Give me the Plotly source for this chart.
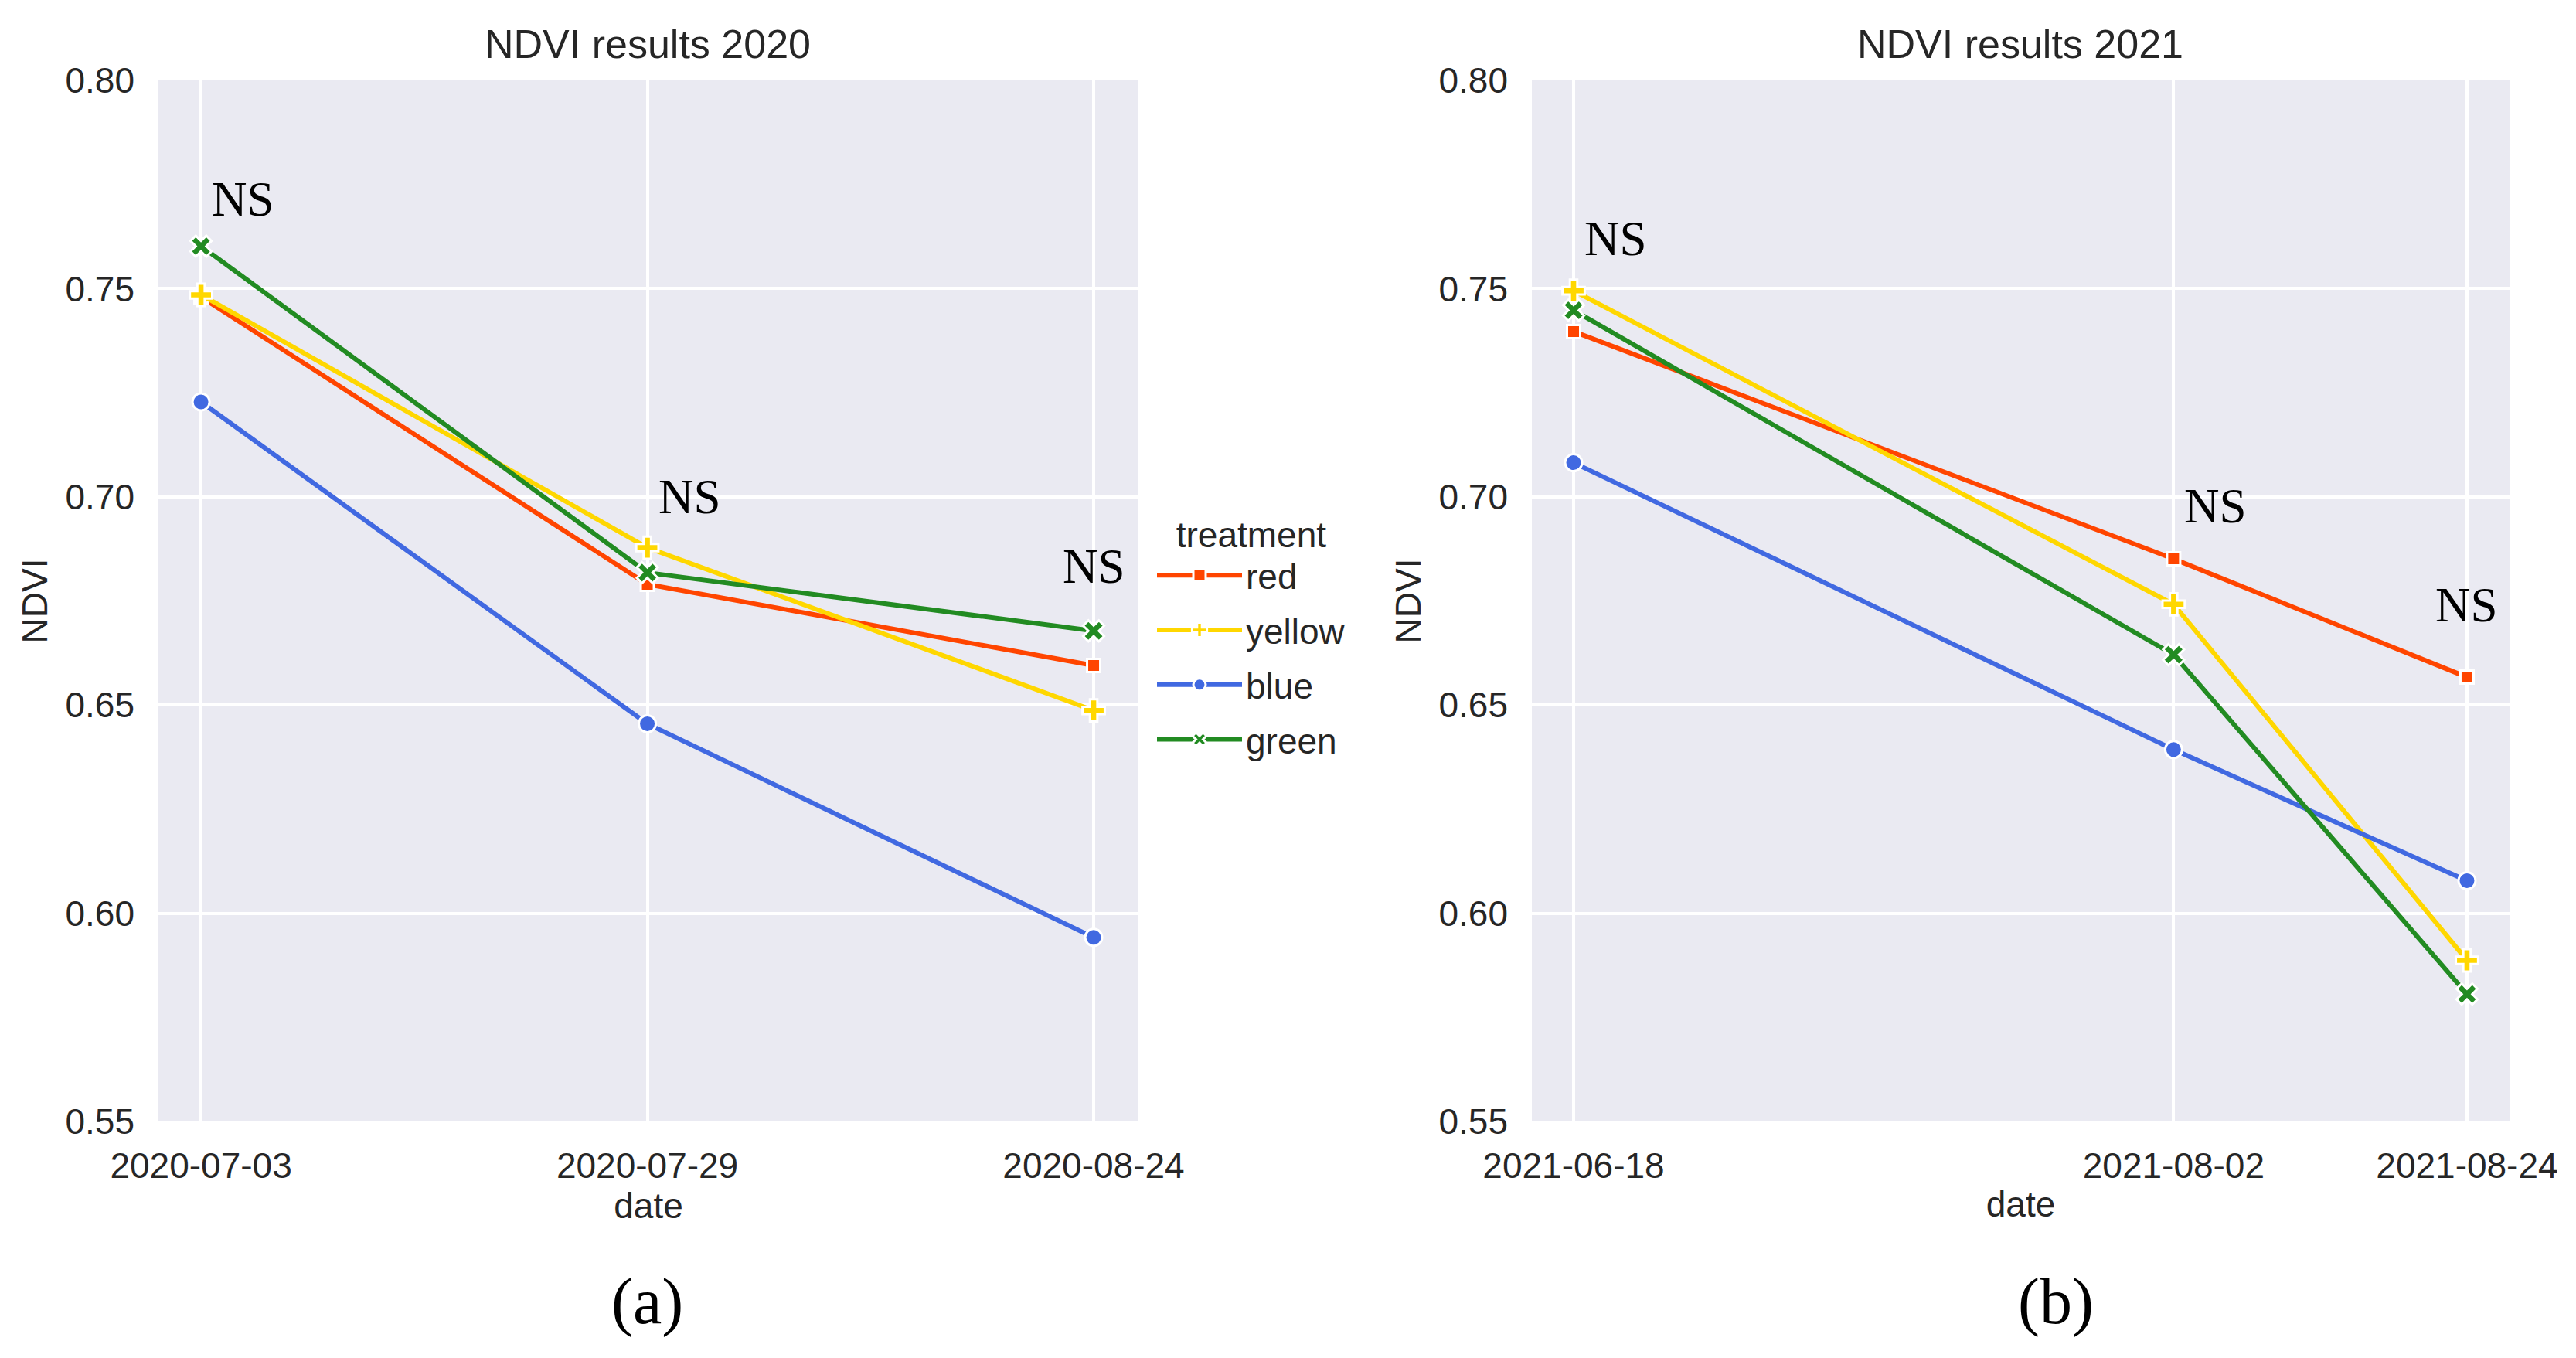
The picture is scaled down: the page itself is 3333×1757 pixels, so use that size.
import pandas as pd
import plotly.graph_objects as go

# data
treatments = ["red", "yellow", "blue", "green"]
colors = ["#FF4500", "#FFD700", "#4169E1", "#228B22"]
symbols = ["square", "cross", "circle", "x"]
marker_sizes = [17, 24, 22, 24]

dates_2020 = ["2020-07-03", "2020-07-29", "2020-08-24"]
ndvi_2020 = {
    "red": [0.748, 0.679, 0.6595],
    "yellow": [0.7485, 0.6878, 0.6487],
    "blue": [0.7228, 0.6455, 0.5942],
    "green": [0.7602, 0.6818, 0.6678],
}

dates_2021 = ["2021-06-18", "2021-08-02", "2021-08-24"]
ndvi_2021 = {
    "red": [0.7397, 0.6851, 0.6567],
    "yellow": [0.7495, 0.6742, 0.5887],
    "blue": [0.7082, 0.6393, 0.6078],
    "green": [0.7448, 0.6621, 0.5806],
}

ns_labels = ["NS", "NS", "NS"]
ns_y_2020 = [0.7715, 0.7000, 0.6832]
ns_y_2021 = [0.7619, 0.6978, 0.6740]

titles = ["NDVI results 2020", "NDVI results 2021"]
captions = ["(a)", "(b)"]
y_ticks = [0.55, 0.60, 0.65, 0.70, 0.75, 0.80]

# page body has an 8px margin, so the figure is drawn 8px in from the corner
OFF = 8
W, H = 3333 - OFF, 1757 - OFF
TEXT = "#262626"
SANS = "Liberation Sans, Arial, sans-serif"
SERIF = "Liberation Serif, Times New Roman, serif"


def px_x(v):
    return (v - OFF) / W


def px_y(v):
    return 1 - (v - OFF) / H


fig = go.Figure()

for i, t in enumerate(treatments):
    for k, (dates, vals) in enumerate([(dates_2020, ndvi_2020), (dates_2021, ndvi_2021)]):
        fig.add_trace(go.Scatter(
            x=dates, y=vals[t], name=t, mode="lines+markers",
            xaxis="x" if k == 0 else "x2", yaxis="y" if k == 0 else "y2",
            line=dict(color=colors[i], width=6),
            marker=dict(symbol=symbols[i], size=marker_sizes[i], color=colors[i],
                        line=dict(color="white", width=3)),
            legendgroup=t, showlegend=(k == 0),
        ))

axis_common = dict(
    showgrid=True, gridcolor="white", gridwidth=3.5, zeroline=False, automargin=False,
    showline=False, ticks="", tickfont=dict(family=SANS, size=46, color=TEXT),
)

pad_2020 = (pd.Timedelta(days=2.48), pd.Timedelta(days=2.61))
pad_2021 = (pd.Timedelta(days=3.13), pd.Timedelta(days=3.19))

fig.update_layout(
    width=W, height=H, margin=dict(l=0, r=0, t=0, b=0, autoexpand=False),
    paper_bgcolor="white", plot_bgcolor="#EAEAF2",
    xaxis=dict(axis_common, domain=[px_x(205), px_x(1473)], type="date",
               range=[pd.Timestamp(dates_2020[0]) - pad_2020[0], pd.Timestamp(dates_2020[-1]) + pad_2020[1]],
               tickvals=dates_2020, ticktext=dates_2020, ticklabelstandoff=26,
               title=dict(text="date", font=dict(family=SANS, size=46, color=TEXT), standoff=8),
               anchor="y"),
    yaxis=dict(axis_common, domain=[px_y(1451), px_y(104)], range=[0.55, 0.80],
               tickvals=y_ticks, tickformat=".2f", ticklabelstandoff=30,
               title=dict(text="NDVI", font=dict(family=SANS, size=46, color=TEXT), standoff=8),
               anchor="x"),
    xaxis2=dict(axis_common, domain=[px_x(1982), px_x(3247)], type="date",
                range=[pd.Timestamp(dates_2021[0]) - pad_2021[0], pd.Timestamp(dates_2021[-1]) + pad_2021[1]],
                tickvals=dates_2021, ticktext=dates_2021, ticklabelstandoff=26,
                title=dict(text="date", font=dict(family=SANS, size=46, color=TEXT), standoff=8),
                anchor="y2"),
    yaxis2=dict(axis_common, domain=[px_y(1451), px_y(104)], range=[0.55, 0.80],
                tickvals=y_ticks, tickformat=".2f", ticklabelstandoff=30,
                title=dict(text="NDVI", font=dict(family=SANS, size=46, color=TEXT), standoff=8),
                anchor="x2"),
    legend=dict(
        x=px_x(1492), y=px_y(648), xanchor="left", yanchor="top",
        bgcolor="white", borderwidth=0, tracegroupgap=8, itemwidth=110,
        font=dict(family=SANS, size=46, color=TEXT),
        title=dict(text="treatment", side="top center", font=dict(family=SANS, size=46, color=TEXT)),
    ),
)

# subplot titles and captions
for k, cx in enumerate([838, 2614]):
    fig.add_annotation(text=titles[k], xref="paper", yref="paper", x=px_x(cx), y=px_y(57),
                       showarrow=False, xanchor="center", yanchor="middle",
                       font=dict(family=SANS, size=52, color=TEXT))
for k, cx in enumerate([837, 2660]):
    fig.add_annotation(text=captions[k], xref="paper", yref="paper", x=px_x(cx), y=px_y(1684),
                       showarrow=False, xanchor="center", yanchor="middle",
                       font=dict(family=SERIF, size=84, color="black"))

# significance labels
for k, (dates, ys) in enumerate([(dates_2020, ns_y_2020), (dates_2021, ns_y_2021)]):
    for j, (d, yv) in enumerate(zip(dates, ys)):
        last = j == len(dates) - 1
        fig.add_annotation(text=ns_labels[j], x=d, y=yv,
                           xref="x" if k == 0 else "x2", yref="y" if k == 0 else "y2",
                           showarrow=False, xanchor="center" if last else "left",
                           xshift=0 if last else 12, yanchor="middle",
                           font=dict(family=SERIF, size=63, color="black"))

fig.write_html("out.html")
